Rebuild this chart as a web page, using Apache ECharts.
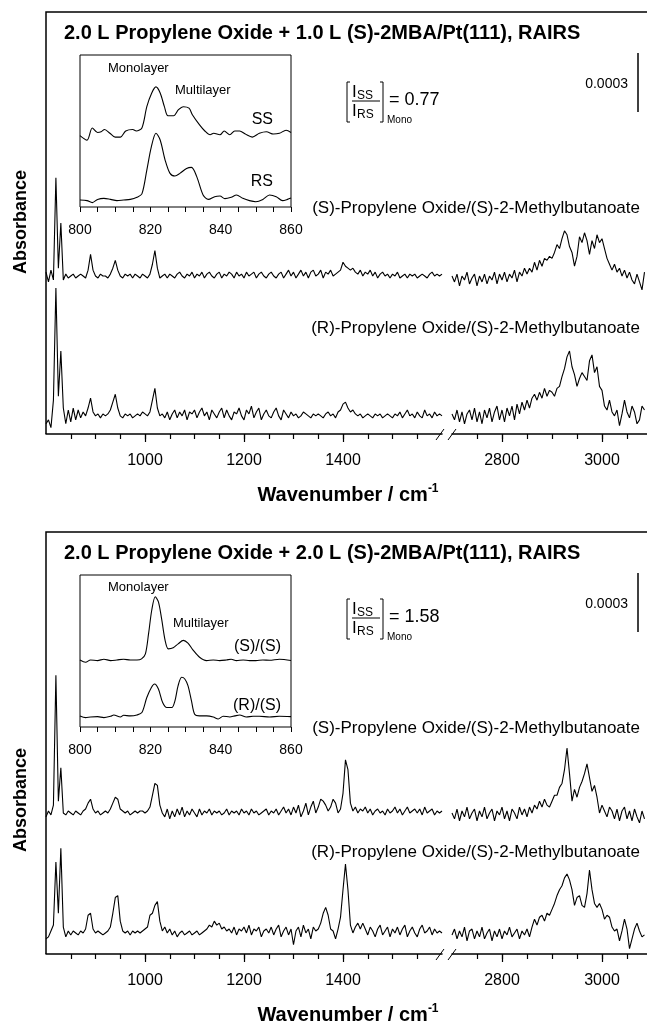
<!DOCTYPE html>
<html>
<head>
<meta charset="utf-8">
<script src="https://cdn.jsdelivr.net/npm/echarts@6/dist/echarts.min.js"></script>
<style>
  html, body { margin: 0; padding: 0; background: #fff; }
  #chart { width: 647px; height: 1024px; }
</style>
</head>
<body>
<div id="chart"></div>
<script>
// wavenumber sampling (cm-1)
const leftStart = 800;
const rightStart = 2700;
const step = 5;

// absorbance in 1e-5 units, each relative to its own baseline
// --- upper panel: 1.0 L (S)-2MBA
const topSSLeft = [
  2, -3, 3, -2, 50, 4, 27, -2, 1, -1,
  0, 1, -1, 0, 1, 0, -1, 3, 11, 3,
  0, -1, 1, 0, 0, -1, 1, 4, 8, 3,
  0, -1, 1, 0, 1, -1, 1, 0, -1, 1,
  0, -1, 1, 6, 13, 4, -1, 0, 1, -1,
  1, 0, -1, 1, 2, 0, -1, 1, 0, 2,
  -1, 1, 0, 2, -1, 1, 2, 0, -1, 1,
  2, -1, 1, 0, 2, 1, -1, 2, 0, 1,
  -1, 2, 0, 1, 2, -1, 1, 2, 0, -1,
  1, 2, 0, -1, 1, 2, -1, 1, 3, 0,
  2, -1, 1, 3, 0, 2, -1, 2, 3, 0,
  1, 3, -1, 2, 1, 3, 0, 1, 2, 3,
  7, 5, 4, 3, 4, 2, 1, 3, 0, 2,
  1, 3, 0, 2, -1, 1, 2, 0, 1, -1,
  1, 0, 2, -1, 0, 1, -1, 1, 0, 1,
  -1, 0, 1, 0, -1, 1, 2, 0, 1, 0,
  1
];
const topSSRight = [
  0, -3, 1, -5, 0, -2, 2, -4, -1, 1,
  -5, 0, -3, 1, -4, 0, -2, 2, -4, 1,
  -2, 2, -3, 1, -1, 3, -3, 2, 0, 4,
  1, 4, 2, 7, 3, 8, 5, 9, 8, 10,
  9, 12, 16, 14, 19, 23, 21, 15, 12, 5,
  10, 20, 17, 22, 18, 11, 18, 14, 21, 17,
  19, 14, 9, 6, 3, 6, 2, 4, 0, 3,
  -1, 2, -2, -4, 1, -3, -7, 2
];
const topRSLeft = [
  -4, -2, -6, 8, 65, 10, 33, 4, -4, 3,
  -3, 4, -2, 3, -1, 2, 0, 4, 9, 2,
  0, 1, -1, 1, 0, 1, 3, 7, 11, 4,
  0, -1, 1, 0, 1, -1, 0, 1, 0, 2,
  1, 0, 2, 8, 14, 4, 0, 1, -1, 2,
  -2, 1, 3, -1, 2, 0, 3, -2, 2, 1,
  3, -1, 2, 4, 0, 2, -2, 3, 1, -1,
  2, 4, -1, 3, 0, -2, 2, 1, 4, 0,
  -2, 3, 1, 5, -1, 2, 4, -2, 1, 3,
  0, -1, 2, 4, 0, -2, 3, 1, -1, 2,
  0, 1, -1, 0, 2, 1, 0, -1, 1, 0,
  1, 0, -1, 1, 2, 0, 1, -1, 2, 3,
  6, 7, 4, 2, 3, 1, 0, 1, -1, 0,
  1, 0, -1, 1, 0, 1, -1, 0, 1, 0,
  -1, 1, 0, 2, -1, 1, 3, 0, 1, -1,
  2, 0, -1, 3, 0, 1, -1, 2, 0, 1,
  0
];
const topRSRight = [
  1, -2, 3, -3, 2, -4, 1, 3, -2, 4,
  -3, 2, -4, 3, -1, 4, -3, 2, 5, -2,
  3, -3, 4, 0, 5, -2, 6, 1, 7, 3,
  8, 4, 9, 11, 8, 12, 9, 14, 10, 13,
  12, 10, 14, 15, 20, 24, 30, 33, 25, 21,
  15, 19, 22, 20, 18, 28, 31, 22, 25, 15,
  13, 5, 3, 8, 2, 0, 3, -5, 1, 8,
  2, -1, 5, 2, -4, -2, 5, 3
];

// --- lower panel: 2.0 L (S)-2MBA
const botSSLeft = [
  -2, 1, -1, 4, 70, 6, 23, 0, -1, 1,
  0, -1, 1, 0, -1, 1, 2, 5, 7, 2,
  0, 1, -1, 0, 1, 0, 2, 5, 8, 7,
  2, 1, 0, 1, -1, 0, 1, 0, 1, 1,
  0, 1, 3, 9, 15, 14, 4, 0, -2, 2,
  -3, 1, -2, 2, -1, 3, -2, 1, -1, 2,
  0, -2, 2, -1, 1, 0, 2, -1, 1, 0,
  1, -1, 0, 2, -1, 1, 0, 1, -1, 2,
  0, 1, -1, 2, 0, 1, -1, 0, 1, 2,
  -1, 1, 0, 2, -1, 1, 3, 0, 2, -1,
  3, 0, 4, -2, 1, 5, -1, 3, 6, 0,
  3, 7, 6, 4, 1, 3, 7, 5, 0, 2,
  10, 27, 22, 5, 1, 3, 0, 2, 1, 3,
  0, 2, -1, 1, 2, 0, 1, -1, 2, 0,
  1, 3, 0, 2, -1, 1, 3, 0, 1, 2,
  0, 2, -1, 3, 0, 1, 2, -1, 1, 0,
  1
];
const botSSRight = [
  0, -3, 2, -4, 1, -2, 3, -3, 0, 2,
  -4, 1, -2, 3, -3, 0, 2, -4, 1, -1,
  3, -3, 1, -4, 2, 0, -3, 3, -1, 2,
  -2, 3, 0, 4, 2, 6, 3, 7, 4, 3,
  6, 9, 9, 13, 15, 22, 33, 20, 6, 12,
  8, 13, 16, 20, 25, 18, 11, 14, 8, 0,
  4, 1, -2, 3, 1, -3, 2, -4, 1, 3,
  -3, 1, -4, 2, -2, -5, 1, -3
];
const botRSLeft = [
  -3, -2, 1, 4, 36, 10, 43, 3, -2, 1,
  -1, 1, 0, -1, 1, 0, 2, 9, 10, 2,
  0, 1, 0, -1, 0, 1, 3, 10, 18, 19,
  6, 1, 0, 1, -1, 1, 0, 1, 0, 1,
  2, 3, 9, 10, 14, 16, 6, 1, 3, 0,
  2, -1, 1, -2, 0, 1, -1, 0, 1, -1,
  0, 1, -1, 0, 1, 2, 4, 3, 6, 4,
  5, 2, 3, 1, 2, 0, 3, -1, 2, 1,
  3, 0, 4, -1, 2, 1, 3, -2, 1, 2,
  0, 3, -1, 2, 4, -2, 1, 3, -1, 2,
  -6, 1, 3, -2, 4, 0, 2, -3, 3, 1,
  2, 5, 10, 13, 9, 2, 1, -3, 2, 8,
  22, 35, 22, 4, 0, 3, 5, 2, 5, 2,
  -1, 3, 1, -2, 2, 4, -1, 1, 3, -2,
  2, 0, 3, -1, 2, 4, -2, 1, 3, 0,
  -2, 2, 4, 0, 1, 3, -1, 2, 0, 1,
  0
];
const botRSRight = [
  -1, 2, -3, 1, -2, 3, -4, 1, 2, -3,
  1, -2, 3, -3, 0, 2, -4, 1, -2, 2,
  -3, 1, -1, 3, -2, 0, 2, -3, 1, -1,
  2, -2, 3, 7, 4, 8, 9, 6, 10, 9,
  12, 15, 19, 22, 24, 28, 30, 27, 22, 14,
  18, 19, 14, 13, 20, 32, 22, 15, 13, 15,
  12, 7, 9, 8, 3, 1, 2, -4, 1, 7,
  2, -8, -3, 2, 5, 1, -2, -1
];

// baselines of the stacked traces (1e-5 units)
const topSSOffset = 80.3, topRSOffset = 9.2;
const botSSOffset = 71.7, botRSOffset = 10.7;

// insets, 800-860 cm-1, relative intensity
const insetTopSS = [[800,47],[802,44],[803.5,52],[805,49],[806,49.5],[807,51],[808.5,48.5],[810,46],[811.5,46],[813,50],[815,51],[816,50],[817.6,52],[819,66],[820.4,75],[821.6,79],[822.8,75],[824,66],[825,60],[826.6,60],[828,64],[829.4,66],[831,65],[832,60.5],[834,54],[835.5,50],[837,47.5],[838,48.5],[839.8,47.5],[841,50],[842.6,47.5],[844,50],[845.4,50],[847,48],[849,46],[851,48.5],[853,49.5],[855,48],[856.7,48.5],[858.6,50.5],[860,49]];
const insetTopRS = [[800,4.6],[802,4.2],[803.5,2.9],[805,5],[806.8,5.7],[808.7,5],[810.5,4.2],[812.4,4.6],[814.3,5],[816.2,6.4],[817.6,8.6],[819,24.3],[820.3,39.7],[821.6,48.5],[822.8,44.1],[824.2,30.9],[825.6,22.1],[827,20.4],[828.4,22.1],[830.3,25.4],[831.7,26.1],[833.2,20],[835,7.9],[836.5,5],[838.3,6.8],[839.8,7.2],[841.2,5.5],[843,6.4],[844.5,7.9],[846.3,5.7],[848.2,4.2],[850,3.5],[852,5],[853.9,7.9],[855.8,6.8],[857.6,4.2],[859,5],[860,5.9]];
const insetBotSS = [[800,44.1],[801.6,42.6],[803,44.1],[805,43.7],[806.8,44.6],[808.7,43.7],[810.5,44.1],[812.4,44.6],[814.3,44.1],[816.2,44.1],[817.5,44.8],[818.6,48.1],[819.5,61.4],[820.4,76.8],[821.4,85.7],[822.3,82.3],[823.2,71.3],[824.2,57],[825.1,51.4],[826.5,52.1],[827.9,54.7],[829.4,57],[830.7,55.2],[832.1,50.8],[834,45.9],[836,43.7],[837.9,44.1],[839.7,43.7],[841.6,44.1],[843,44.6],[844.5,43.7],[846.4,44.1],[848.2,43.7],[850,43.7],[852,44.1],[853.9,43.9],[856.7,44.6],[860,43.7]];
const insetBotRS = [[800,7.3],[801.6,6.2],[803,6.6],[805,6.8],[806.8,6.2],[808.7,7.1],[809.6,7.9],[811.5,6.6],[812.4,7.7],[814.3,7.3],[816.2,7.9],[817.6,9.5],[819,19.4],[820.3,26],[821.2,28.3],[822.3,25],[823.5,16.1],[824.7,12.8],[826.1,12.8],[827,17.2],[827.9,27.2],[828.9,32.7],[829.8,31.6],[830.7,27.2],[831.7,17.2],[832.6,8.4],[834,7.3],[836,7.3],[837.9,6.6],[839.3,5.3],[840.7,7.1],[842.6,6.6],[844,7.3],[845.4,7.9],[847.3,6.6],[849.2,7.1],[851,7.1],[853.9,6.6],[856.7,7.1],[860,6.8]];

// tick positions
const leftLabels = [1000, 1200, 1400];
const leftMinor = [850, 900, 950, 1000, 1050, 1100, 1150, 1200, 1250, 1300, 1350, 1400, 1450, 1500, 1550];
const rightLabels = [2800, 3000];
const rightMinor = [2750, 2800, 2850, 2900, 2950, 3000, 3050];
const scaleBar = [163.7, 193.7]; // 0.0003 = 30 units

const font = 'Liberation Sans';
const black = '#000';
const plotH = 422;
const yMax = plotH / 1.967;

const grids = [], xAxes = [], yAxes = [], series = [], graphics = [];

const toPairs = (start, vals, off) => vals.map((v, i) => [start + i * step, v + off]);
const plainNum = v => String(v);

function lineSeries(xi, yi, data, smooth) {
  return {
    type: 'line', xAxisIndex: xi, yAxisIndex: yi, data,
    showSymbol: false, symbol: 'none', smooth: smooth || false,
    lineStyle: { color: black, width: 1.1 }, silent: true
  };
}

function txt(x, y, text, size, extra) {
  return {
    type: 'text', x, y, silent: true,
    style: Object.assign({
      text, fill: black, fontSize: size, fontFamily: font,
      textAlign: 'left', textVerticalAlign: 'middle'
    }, extra || {})
  };
}

function pline(points, w) {
  return { type: 'polyline', silent: true, shape: { points }, style: { stroke: black, lineWidth: w || 1, fill: null } };
}

function mainX(gridIndex, min, max, labels, minors) {
  return [
    {
      type: 'value', gridIndex, min, max, position: 'bottom',
      axisLine: { show: true, onZero: false, lineStyle: { color: black, width: 1.5 } },
      axisTick: { show: true, length: 8, customValues: labels, lineStyle: { color: black, width: 1.2 } },
      axisLabel: { show: true, customValues: labels, formatter: plainNum, color: black, fontSize: 16, fontFamily: font, margin: 19 },
      splitLine: { show: false }
    },
    {
      type: 'value', gridIndex, min, max, position: 'bottom',
      axisLine: { show: false },
      axisTick: { show: true, length: 5, customValues: minors, lineStyle: { color: black, width: 1.2 } },
      axisLabel: { show: false },
      splitLine: { show: false }
    }
  ];
}

function addPanel(p) {
  const top = p.top;
  const g = grids.length;
  const xi = xAxes.length;
  grids.push({ left: 46, top, width: 396, height: plotH });
  grids.push({ left: 452, top, width: 195, height: plotH });
  grids.push({ left: 80, top: top + 43, width: 211, height: 152, show: true, borderColor: black, borderWidth: 1 });

  xAxes.push(...mainX(g, leftStart, 1600, leftLabels, leftMinor));
  xAxes.push(...mainX(g + 1, rightStart, 3090, rightLabels, rightMinor));
  xAxes.push({
    type: 'value', gridIndex: g + 2, min: 800, max: 860, interval: 20,
    axisLine: { show: false },
    axisTick: { show: true, length: 5, lineStyle: { color: black } },
    minorTick: { show: true, splitNumber: 4, length: 5, lineStyle: { color: black } },
    axisLabel: { color: black, fontSize: 14, fontFamily: font, margin: 16, formatter: plainNum },
    splitLine: { show: false }
  });
  for (let k = 0; k < 3; k++) {
    yAxes.push({ type: 'value', gridIndex: g + k, min: 0, max: k === 2 ? 100 : yMax, show: false });
  }

  series.push(lineSeries(xi, g, toPairs(leftStart, p.ssLeft, p.ssOff)));
  series.push(lineSeries(xi, g, toPairs(leftStart, p.rsLeft, p.rsOff)));
  series.push(lineSeries(xi + 2, g + 1, toPairs(rightStart, p.ssRight, p.ssOff)));
  series.push(lineSeries(xi + 2, g + 1, toPairs(rightStart, p.rsRight, p.rsOff)));
  series.push(lineSeries(xi + 4, g + 2, p.insetA, 0.3));
  series.push(lineSeries(xi + 4, g + 2, p.insetB, 0.3));
  // 0.0003 scale bar
  series.push({
    type: 'line', xAxisIndex: xi + 2, yAxisIndex: g + 1, showSymbol: false, symbol: 'none',
    data: [[3072, scaleBar[0]], [3072, scaleBar[1]]], lineStyle: { color: black, width: 1.5 }, silent: true
  });

  const bottom = top + plotH;
  // frame (left + top), axis break marks
  graphics.push(pline([[46, bottom], [46, top], [650, top]], 1.5));
  graphics.push(pline([[436, bottom + 6], [444, bottom - 5]], 1));
  graphics.push(pline([[448, bottom + 6], [456, bottom - 5]], 1));

  graphics.push(txt(64, top + 21, p.title, 20, { fontWeight: 'bold' }));
  graphics.push(txt(640, p.sLabelY, '(S)-Propylene Oxide/(S)-2-Methylbutanoate', 17, { textAlign: 'right' }));
  graphics.push(txt(640, p.rLabelY, '(R)-Propylene Oxide/(S)-2-Methylbutanoate', 17, { textAlign: 'right' }));

  // inset annotations
  graphics.push(txt(108, p.monoY, 'Monolayer', 13));
  graphics.push(txt(p.multiX, p.multiY, 'Multilayer', 13));
  graphics.push(txt(p.tagX, p.tagAY, p.tagA, 16, { textAlign: 'right' }));
  graphics.push(txt(p.tagX, p.tagBY, p.tagB, 16, { textAlign: 'right' }));

  // [I_SS / I_RS]_Mono = ratio
  const f = p.fracTop;
  graphics.push(pline([[350, f], [347, f], [347, f + 40], [350, f + 40]], 1));
  graphics.push(pline([[380, f], [383, f], [383, f + 40], [380, f + 40]], 1));
  graphics.push(pline([[352, f + 19], [380, f + 19]], 1));
  graphics.push(txt(352, f + 10, 'I', 17));
  graphics.push(txt(357, f + 14, 'SS', 12));
  graphics.push(txt(352, f + 29, 'I', 17));
  graphics.push(txt(357, f + 33, 'RS', 12));
  graphics.push(txt(387, f + 38, 'Mono', 10));
  graphics.push(txt(389, f + 18, '= ' + p.ratio, 18));

  graphics.push(txt(628, top + 72, '0.0003', 14, { textAlign: 'right' }));

  graphics.push({
    type: 'text', x: 21, y: p.absY, rotation: Math.PI / 2, silent: true,
    style: { text: 'Absorbance', fill: black, fontSize: 18, fontWeight: 'bold', fontFamily: font, textAlign: 'center', textVerticalAlign: 'middle' }
  });
  graphics.push({
    type: 'text', x: 348, y: bottom + 61, silent: true,
    style: {
      text: '{a|Wavenumber / cm}{s|-1}', fill: black, textAlign: 'center', textVerticalAlign: 'middle',
      rich: {
        a: { fontSize: 20, fontWeight: 'bold', fontFamily: font, lineHeight: 24, fill: black },
        s: { fontSize: 12, fontWeight: 'bold', fontFamily: font, verticalAlign: 'top', fill: black }
      }
    }
  });
}

addPanel({
  top: 12,
  title: '2.0 L Propylene Oxide + 1.0 L (S)-2MBA/Pt(111), RAIRS',
  ssLeft: topSSLeft, ssRight: topSSRight, rsLeft: topRSLeft, rsRight: topRSRight,
  ssOff: topSSOffset, rsOff: topRSOffset,
  insetA: insetTopSS, insetB: insetTopRS,
  sLabelY: 208, rLabelY: 328,
  monoY: 68, multiX: 175, multiY: 90,
  tagX: 273, tagA: 'SS', tagAY: 120, tagB: 'RS', tagBY: 182,
  fracTop: 82, ratio: '0.77', absY: 222
});
addPanel({
  top: 532,
  title: '2.0 L Propylene Oxide + 2.0 L (S)-2MBA/Pt(111), RAIRS',
  ssLeft: botSSLeft, ssRight: botSSRight, rsLeft: botRSLeft, rsRight: botRSRight,
  ssOff: botSSOffset, rsOff: botRSOffset,
  insetA: insetBotSS, insetB: insetBotRS,
  sLabelY: 728, rLabelY: 852,
  monoY: 587, multiX: 173, multiY: 623,
  tagX: 281, tagA: '(S)/(S)', tagAY: 647, tagB: '(R)/(S)', tagBY: 706,
  fracTop: 599, ratio: '1.58', absY: 800
});

const chart = echarts.init(document.getElementById('chart'), null, { renderer: 'canvas' });
chart.setOption({
  animation: false,
  backgroundColor: '#fff',
  grid: grids,
  xAxis: xAxes,
  yAxis: yAxes,
  series,
  graphic: graphics
});
</script>
</body>
</html>
